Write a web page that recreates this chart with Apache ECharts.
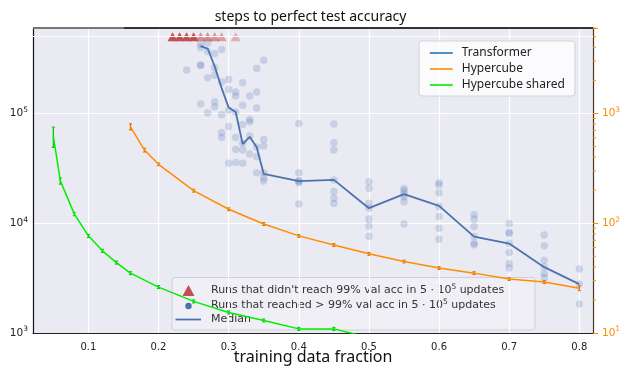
<!DOCTYPE html>
<html>
<head>
<meta charset="utf-8">
<script src="https://cdn.jsdelivr.net/npm/echarts@6/dist/echarts.min.js"></script>
<style>
  html, body { margin: 0; padding: 0; background: #ffffff; }
  #chart { width: 621px; height: 371px; }
</style>
</head>
<body>
<div id="chart"></div>
<script>
// ---- data -------------------------------------------------------------
// Transformer: median number of steps to perfect test accuracy
const medianFractions = [0.26, 0.27, 0.28, 0.29, 0.30, 0.31, 0.32, 0.33, 0.34, 0.35,
                         0.40, 0.45, 0.50, 0.55, 0.60, 0.65, 0.70, 0.75, 0.80];
const medianSteps = [410000, 390000, 269000, 170000, 113000, 103000, 52600, 61300, 49100, 28100,
                     24200, 24800, 13700, 18400, 14400, 7550, 6530, 3980, 2790];

// Transformer: individual runs that reached > 99% val acc  [fraction, steps]
const reachedRuns = [
  [0.24, 248000],
  [0.26, 427000], [0.26, 396000], [0.26, 275000], [0.26, 275000], [0.26, 122000],
  [0.27, 438000], [0.27, 366000], [0.27, 211000], [0.27, 101000],
  [0.28, 351000], [0.28, 261000], [0.28, 223000], [0.28, 128000], [0.28, 115000],
  [0.29, 382000], [0.29, 193000], [0.29, 97100], [0.29, 66600], [0.29, 60300],
  [0.30, 204000], [0.30, 165000], [0.30, 107000], [0.30, 75900], [0.30, 35100],
  [0.31, 157000], [0.31, 144000], [0.31, 103000], [0.31, 60300], [0.31, 47100], [0.31, 35700],
  [0.32, 190000], [0.32, 119000], [0.32, 79100], [0.32, 53400], [0.32, 46400], [0.32, 35100],
  [0.33, 144000], [0.33, 88200], [0.33, 83900], [0.33, 62200], [0.33, 42700],
  [0.34, 256000], [0.34, 157000], [0.34, 112000], [0.34, 49400], [0.34, 40300], [0.34, 28800],
  [0.35, 305000], [0.35, 58000], [0.35, 50400], [0.35, 28800], [0.35, 25800], [0.35, 24200],
  [0.40, 80800], [0.40, 28800], [0.40, 24200], [0.40, 24200], [0.40, 23400], [0.40, 15000],
  [0.45, 80000], [0.45, 54100], [0.45, 46400], [0.45, 24800], [0.45, 19400], [0.45, 16900], [0.45, 15100],
  [0.50, 23900], [0.50, 20800], [0.50, 15200], [0.50, 13700], [0.50, 10900], [0.50, 9450], [0.50, 7620],
  [0.55, 20700], [0.55, 19800], [0.55, 18500], [0.55, 17300], [0.55, 15700], [0.55, 9860],
  [0.60, 23400], [0.60, 22300], [0.60, 18900], [0.60, 14200], [0.60, 11500], [0.60, 9010], [0.60, 7150],
  [0.65, 12000], [0.65, 10900], [0.65, 9350], [0.65, 7550], [0.65, 6570], [0.65, 6350],
  [0.70, 9920], [0.70, 8280], [0.70, 8040], [0.70, 6570], [0.70, 5410], [0.70, 4270], [0.70, 3900],
  [0.75, 7830], [0.75, 6220], [0.75, 4590], [0.75, 4010], [0.75, 3480], [0.75, 3180],
  [0.80, 3820], [0.80, 2790], [0.80, 1840]
];

// Transformer: fractions with runs that never reached 99% val acc in the budget
const updateBudget = 500000;
const failedFractions = [0.22, 0.23, 0.24, 0.25, 0.26, 0.27, 0.28, 0.29, 0.31];
const failedShare = [1, 1, 1, 1, 0.5, 0.5, 0.45, 0.35, 0.2];

// Hypercube models (right axis): mean steps and standard deviation
const hypercubeFractions = [0.16, 0.18, 0.20, 0.25, 0.30, 0.35, 0.40, 0.45, 0.50, 0.55, 0.60, 0.65, 0.70, 0.75, 0.80];
const hypercubeSteps = [755, 464, 344, 198, 134, 98.5, 76.7, 63.3, 52.6, 44.8, 39.0, 35.1, 31.0, 29.1, 25.6];
const hypercubeStd = [49, 19, 10, 6, 4, 3, 2.3, 1.9, 1.6, 1.3, 1.2, 1.05, 0.9, 0.9, 1.3];

const sharedFractions = [0.05, 0.06, 0.08, 0.10, 0.12, 0.14, 0.16, 0.20, 0.25, 0.30, 0.35, 0.40, 0.45, 0.50];
const sharedSteps = [620, 243, 121, 76.7, 56.0, 43.8, 35.1, 26.2, 19.4, 15.4, 13.0, 10.9, 10.9, 9.1];
const sharedStd = [130, 16, 4, 2.5, 1.8, 1.4, 1.1, 0.8, 0.6, 0.5, 0.4, 0.35, 0.35, 0.3];

// Axis ranges and tick labels
const xRange = [0.021, 0.8195];
const xTickLabels = ['0.1', '0.2', '0.3', '0.4', '0.5', '0.6', '0.7', '0.8'];
const leftRange = [1000, 600000];
const rightRange = [10, 6000];

// ---- styling ------------------------------------------------------------
const BG = '#EAEAF2';
const BLUE = '#4C72B0';
const RED = '#C44E52';
const ORANGE = '#ff8c00';
const GREEN = '#00ee00';
const sansUI = '"Noto Sans", "Open Sans", sans-serif';
const sansMath = '"DejaVu Sans", sans-serif';

const chart = echarts.init(document.getElementById('chart'), null, { renderer: 'canvas' });

function powerLabel(v) {
  const e = Math.log10(v);
  const r = Math.round(e);
  if (Math.abs(e - r) > 1e-6) return '';
  return '{b|10}{s|' + r + '}';
}
function powerRich(color) {
  return {
    b: { fontSize: 10.5, fontFamily: sansMath, color: color },
    s: { fontSize: 7.5, fontFamily: sansMath, color: color, padding: [0, 0, 7, 0] }
  };
}

function errorBars(name, xs, ys, errs, color) {
  return {
    type: 'custom', name: name, xAxisIndex: 0, yAxisIndex: 1, z: 4, silent: true, clip: true,
    data: xs.map((x, i) => [x, ys[i] - errs[i], ys[i] + errs[i]]),
    renderItem: function (params, api) {
      const lo = api.coord([api.value(0), api.value(1)]);
      const hi = api.coord([api.value(0), api.value(2)]);
      const c = 1.6;
      return {
        type: 'group', children: [
          { type: 'line', shape: { x1: lo[0], y1: lo[1], x2: hi[0], y2: hi[1] }, style: { stroke: color, lineWidth: 1.3 } },
          { type: 'line', shape: { x1: lo[0] - c, y1: lo[1], x2: lo[0] + c, y2: lo[1] }, style: { stroke: color, lineWidth: 1 } },
          { type: 'line', shape: { x1: hi[0] - c, y1: hi[1], x2: hi[0] + c, y2: hi[1] }, style: { stroke: color, lineWidth: 1 } }
        ]
      };
    }
  };
}

// minor log ticks (2..9 of each decade) on the right axis
const rightMinorTicks = [];
for (let d = 10; d < rightRange[1]; d *= 10) {
  for (let m = 2; m <= 9; m++) {
    if (d * m <= rightRange[1]) rightMinorTicks.push([xRange[1], d * m]);
  }
}

const option = {
  animation: false,
  backgroundColor: '#ffffff',
  title: {
    text: 'steps to perfect test accuracy',
    left: 'center', top: 5,
    textStyle: { fontFamily: sansUI, fontSize: 14, fontWeight: 'normal', color: '#111' }
  },
  grid: {
    left: 33, right: 28, top: 28, bottom: 38,
    outerBoundsMode: 'none', containLabel: false,
    show: true, backgroundColor: BG, borderWidth: 0
  },
  legend: {
    data: ['Transformer', 'Hypercube', 'Hypercube shared'],
    orient: 'vertical', left: 419, top: 41,
    padding: [5, 10, 4, 10],
    itemWidth: 23, itemHeight: 14, itemGap: 2,
    selectedMode: false,
    itemStyle: { opacity: 0 },
    lineStyle: { width: 1.6 },
    backgroundColor: 'rgba(255,255,255,0.8)',
    borderColor: '#d2d2d8', borderWidth: 1, borderRadius: 3,
    textStyle: { fontFamily: sansUI, fontSize: 12, color: '#222', lineHeight: 14, padding: [0, 0, 0, 4] }
  },
  xAxis: {
    type: 'value', min: xRange[0], max: xRange[1], splitNumber: 8,
    name: 'training data fraction', nameLocation: 'middle', nameGap: 16, nameMoveOverlap: false,
    nameTextStyle: { fontFamily: sansUI, fontSize: 16, color: '#111' },
    axisLine: { show: true, lineStyle: { color: '#222', width: 1.2 } },
    axisTick: { show: false },
    axisLabel: {
      margin: 9, fontFamily: sansMath, fontSize: 10, color: '#222',
      showMinLabel: false, showMaxLabel: false,
      formatter: function (v) {
        const s = v.toFixed(1);
        return (Math.abs(v - parseFloat(s)) < 1e-6 && xTickLabels.indexOf(s) >= 0) ? s : '';
      }
    },
    splitLine: { show: true, lineStyle: { color: '#ffffff', width: 1.2 } }
  },
  yAxis: [
    {
      type: 'log', logBase: 10, min: leftRange[0], max: leftRange[1], position: 'left',
      axisLine: { show: true, lineStyle: { color: '#111', width: 1.2 } },
      axisTick: { show: false },
      axisLabel: { margin: 5, formatter: powerLabel, rich: powerRich('#222') },
      splitLine: { show: true, lineStyle: { color: '#ffffff', width: 1.2 } }
    },
    {
      type: 'log', logBase: 10, min: rightRange[0], max: rightRange[1], position: 'right',
      axisLine: { show: true, lineStyle: { color: '#4a3520', width: 1.2 } },
      axisTick: { show: true, length: 5, lineStyle: { color: ORANGE, width: 1 } },
      axisLabel: { margin: 9, formatter: powerLabel, rich: powerRich(ORANGE) },
      splitLine: { show: false }
    }
  ],
  series: [
    {
      // budget line
      type: 'line', name: 'budget', data: [], yAxisIndex: 0, silent: true, z: 1,
      markLine: {
        silent: true, symbol: 'none', label: { show: false },
        lineStyle: { color: '#ffffff', width: 1.2, type: 'solid' },
        data: [{ yAxis: updateBudget }]
      }
    },
    {
      type: 'scatter', name: 'reached', data: reachedRuns, yAxisIndex: 0, z: 2,
      symbol: 'circle', symbolSize: 7.5, silent: true,
      itemStyle: { color: BLUE, opacity: 0.22 }
    },
    {
      type: 'scatter', name: 'failed', yAxisIndex: 0, z: 3, silent: true,
      symbol: 'triangle', symbolSize: [10, 9],
      data: failedFractions.map((x, i) => ({
        value: [x, updateBudget],
        itemStyle: { color: RED, opacity: 0.2 + 0.8 * failedShare[i] }
      }))
    },
    {
      type: 'line', name: 'Median', yAxisIndex: 0, z: 6, symbol: 'none',
      data: medianFractions.map((x, i) => [x, medianSteps[i]]),
      lineStyle: { color: BLUE, width: 1.8 }, itemStyle: { color: BLUE }
    },
    {
      type: 'line', name: 'Transformer', yAxisIndex: 0, data: [], symbol: 'none',
      lineStyle: { color: '#1f77b4', width: 1.6 }, itemStyle: { color: '#1f77b4' }
    },
    {
      type: 'line', name: 'Hypercube', yAxisIndex: 1, z: 4, symbol: 'none',
      data: hypercubeFractions.map((x, i) => [x, hypercubeSteps[i]]),
      lineStyle: { color: ORANGE, width: 1.5 }, itemStyle: { color: ORANGE }
    },
    errorBars('Hypercube std', hypercubeFractions, hypercubeSteps, hypercubeStd, '#e07000'),
    {
      type: 'line', name: 'Hypercube shared', yAxisIndex: 1, z: 4, symbol: 'none',
      data: sharedFractions.map((x, i) => [x, sharedSteps[i]]),
      lineStyle: { color: GREEN, width: 1.5 }, itemStyle: { color: GREEN }
    },
    errorBars('Hypercube shared std', sharedFractions, sharedSteps, sharedStd, '#00c800'),
    {
      // minor ticks of the right log axis
      type: 'custom', name: 'minor ticks', yAxisIndex: 1, silent: true, z: 10, clip: false,
      data: rightMinorTicks,
      renderItem: function (params, api) {
        const p = api.coord([api.value(0), api.value(1)]);
        return { type: 'line', shape: { x1: p[0], y1: p[1], x2: p[0] + 3, y2: p[1] }, style: { stroke: ORANGE, lineWidth: 1 } };
      }
    }
  ],
  graphic: [
    // top spine
    { type: 'line', z: 50, shape: { x1: 33, y1: 28, x2: 124, y2: 28 }, style: { stroke: '#777', lineWidth: 1.8 } },
    { type: 'line', z: 50, shape: { x1: 124, y1: 28, x2: 593, y2: 28 }, style: { stroke: '#333', lineWidth: 1.8 } },
    // lower legend (run markers and median)
    {
      type: 'group', z: 60, x: 172, y: 277.5,
      children: [
        { type: 'rect', shape: { x: 0, y: 0, width: 363, height: 52.5, r: 3 }, style: { fill: 'rgba(255,255,255,0.25)', stroke: '#cfcfd8', lineWidth: 1 } },
        { type: 'polygon', shape: { points: [[16.5, 7.5], [10.5, 18.5], [22.5, 18.5]] }, style: { fill: RED } },
        { type: 'circle', shape: { cx: 16.5, cy: 28.5, r: 3.2 }, style: { fill: BLUE } },
        { type: 'line', shape: { x1: 3.5, y1: 42, x2: 29, y2: 42 }, style: { stroke: BLUE, lineWidth: 1.8 } },
        { type: 'text', x: 39, y: 13, style: { text: "Runs that didn't reach 99% val acc in 5 \u00b7 10{s|5} updates", font: '11px ' + sansMath, fill: '#333', verticalAlign: 'middle', rich: { s: { fontSize: 7.5, fontFamily: sansMath, fill: '#333', padding: [0, 0, 7, 0] } } } },
        { type: 'text', x: 39, y: 28, style: { text: 'Runs that reached > 99% val acc in 5 \u00b7 10{s|5} updates', font: '11px ' + sansMath, fill: '#333', verticalAlign: 'middle', rich: { s: { fontSize: 7.5, fontFamily: sansMath, fill: '#333', padding: [0, 0, 7, 0] } } } },
        { type: 'text', x: 39, y: 42, style: { text: 'Median', font: '11px ' + sansMath, fill: '#333', verticalAlign: 'middle' } }
      ]
    }
  ]
};

chart.setOption(option);
</script>
</body>
</html>
